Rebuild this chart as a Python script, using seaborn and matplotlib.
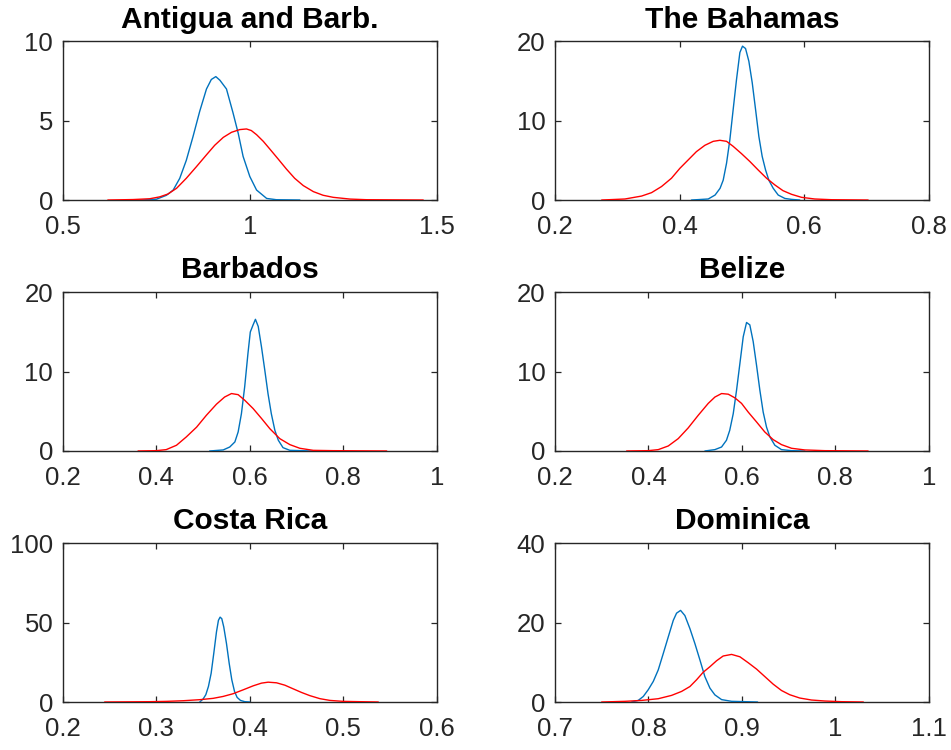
import matplotlib
matplotlib.use("Agg")
import matplotlib.pyplot as plt
import seaborn as sns
import pandas as pd
from matplotlib.ticker import FuncFormatter

# ---------------- data ----------------
countries = ["Antigua and Barb.", "The Bahamas", "Barbados", "Belize", "Costa Rica", "Dominica"]

antigua_blue_x = [0.705, 0.75, 0.777, 0.795, 0.8125, 0.83, 0.848, 0.866, 0.884, 0.897, 0.909, 0.92,
                  0.9375, 0.955, 0.969, 0.982, 1.0, 1.018, 1.045, 1.071, 1.134]
antigua_blue_y = [0.0, 0.05, 0.3, 0.63, 1.37, 2.5, 4.0, 5.6, 7.0, 7.6, 7.78, 7.55,
                  7.0, 5.5, 4.2, 2.75, 1.48, 0.63, 0.1, 0.02, 0.0]
antigua_red_x = [0.62, 0.6875, 0.732, 0.759, 0.781, 0.804, 0.83, 0.857, 0.884, 0.906, 0.929, 0.951,
                 0.973, 0.991, 1.004, 1.018, 1.036, 1.054, 1.076, 1.098, 1.12, 1.143, 1.17, 1.196,
                 1.223, 1.268, 1.3125, 1.464]
antigua_red_y = [0.0, 0.03, 0.08, 0.2, 0.38, 0.74, 1.37, 2.1, 2.85, 3.45, 3.95, 4.27,
                 4.44, 4.48, 4.38, 4.12, 3.7, 3.2, 2.58, 1.95, 1.37, 0.91, 0.53, 0.3,
                 0.17, 0.06, 0.02, 0.0]

bahamas_blue_x = [0.419, 0.446, 0.457, 0.465, 0.47, 0.4754, 0.4807, 0.486, 0.4914, 0.4968, 0.501,
                  0.5059, 0.5112, 0.5166, 0.522, 0.5273, 0.5326, 0.538, 0.5433, 0.5503, 0.5583,
                  0.569, 0.5797, 0.593]
bahamas_blue_y = [0.0, 0.13, 0.63, 1.48, 2.5, 4.65, 7.6, 11.4, 15.2, 18.6, 19.4,
                  19.1, 17.5, 14.8, 11.4, 8.0, 5.5, 3.8, 2.5, 1.48, 0.63,
                  0.2, 0.08, 0.0]
bahamas_red_x = [0.2749, 0.3123, 0.339, 0.355, 0.371, 0.387, 0.4005, 0.414, 0.427, 0.4406, 0.454,
                 0.4647, 0.4754, 0.486, 0.4995, 0.5128, 0.526, 0.5396, 0.553, 0.566, 0.5797,
                 0.5957, 0.617, 0.6439, 0.7027]
bahamas_red_y = [0.0, 0.13, 0.5, 0.93, 1.7, 2.75, 4.0, 5.07, 6.1, 6.9, 7.4,
                 7.53, 7.4, 6.77, 5.84, 4.86, 3.8, 2.75, 1.9, 1.18, 0.72,
                 0.34, 0.13, 0.04, 0.0]

barbados_blue_x = [0.514, 0.543, 0.557, 0.568, 0.575, 0.582, 0.589, 0.596, 0.601, 0.607, 0.612,
                   0.618, 0.625, 0.632, 0.639, 0.646, 0.6536, 0.661, 0.671, 0.6857, 0.7357]
barbados_blue_y = [0.0, 0.13, 0.5, 1.14, 2.4, 4.7, 8.1, 12.3, 15.0, 15.9, 16.6,
                   15.7, 13.1, 10.2, 7.2, 4.7, 2.6, 1.35, 0.42, 0.08, 0.0]
barbados_red_x = [0.3607, 0.4, 0.421, 0.443, 0.464, 0.486, 0.507, 0.5286, 0.546, 0.5607, 0.575,
                  0.589, 0.607, 0.625, 0.643, 0.664, 0.6857, 0.707, 0.7357, 0.7786, 0.893]
barbados_red_y = [0.0, 0.04, 0.17, 0.72, 1.77, 3.0, 4.5, 5.9, 6.8, 7.24, 7.1,
                  6.4, 5.35, 4.1, 2.8, 1.56, 0.8, 0.34, 0.08, 0.04, 0.0]

belize_blue_x = [0.5209, 0.5422, 0.5565, 0.567, 0.574, 0.5815, 0.5886, 0.5957, 0.6029, 0.61, 0.617,
                 0.6242, 0.6314, 0.6385, 0.6456, 0.6528, 0.66, 0.6706, 0.6848, 0.7063, 0.7348]
belize_blue_y = [0.0, 0.17, 0.5, 1.35, 2.6, 4.7, 7.66, 11.0, 14.4, 16.2, 15.9,
                 13.8, 10.8, 7.66, 4.9, 3.0, 1.77, 0.72, 0.17, 0.04, 0.0]
belize_red_x = [0.3533, 0.3996, 0.421, 0.4424, 0.4638, 0.485, 0.5066, 0.528, 0.5423, 0.5565, 0.5708,
                0.585, 0.5993, 0.6136, 0.6314, 0.649, 0.667, 0.6848, 0.7063, 0.7348, 0.7775, 0.8702]
belize_red_y = [0.0, 0.04, 0.17, 0.63, 1.56, 2.9, 4.5, 6.0, 6.8, 7.24, 7.16,
                6.7, 6.0, 4.9, 3.66, 2.4, 1.43, 0.8, 0.34, 0.13, 0.04, 0.0]

costarica_blue_x = [0.3464, 0.35, 0.3529, 0.3557, 0.3586, 0.3614, 0.3643, 0.3664, 0.3682, 0.37,
                    0.3721, 0.375, 0.3779, 0.3807, 0.3836, 0.3864, 0.39, 0.3946, 0.4]
costarica_blue_y = [0.0, 1.9, 4.6, 9.8, 18.1, 30.6, 44.2, 51.5, 53.5, 52.5,
                    47.3, 36.9, 24.4, 14.0, 6.7, 2.9, 1.0, 0.2, 0.0]
costarica_red_x = [0.2446, 0.293, 0.3107, 0.3286, 0.3464, 0.3607, 0.3714, 0.382, 0.393, 0.4036,
                   0.4125, 0.4196, 0.4286, 0.4375, 0.4464, 0.4554, 0.4643, 0.475, 0.4857, 0.5,
                   0.5179, 0.5375]
costarica_red_y = [0.0, 0.2, 0.4, 0.8, 1.46, 2.3, 3.5, 5.2, 7.7, 10.2,
                   11.9, 12.5, 12.1, 10.6, 8.3, 6.0, 4.0, 2.1, 1.0, 0.4,
                   0.2, 0.0]

dominica_blue_x = [0.782, 0.7891, 0.7945, 0.7998, 0.8052, 0.8105, 0.8159, 0.8212, 0.8266, 0.8301,
                   0.8344, 0.839, 0.8444, 0.8497, 0.8551, 0.8604, 0.8658, 0.8711, 0.8783, 0.889, 0.9168]
dominica_blue_y = [0.0, 0.4, 1.4, 3.1, 5.2, 8.1, 12.25, 16.4, 20.6, 22.4,
                   23.1, 21.8, 18.5, 14.75, 10.6, 6.4, 3.5, 1.8, 0.6, 0.17, 0.0]
dominica_red_x = [0.7499, 0.7749, 0.7927, 0.8105, 0.8248, 0.8355, 0.8444, 0.8515, 0.8586, 0.8658,
                  0.8729, 0.88, 0.889, 0.8979, 0.9068, 0.9157, 0.9246, 0.9335, 0.9424, 0.9513,
                  0.962, 0.9745, 0.9888, 1.0066, 1.03]
dominica_red_y = [0.0, 0.17, 0.4, 0.83, 1.67, 2.67, 3.9, 5.6, 7.5, 8.9,
                  10.4, 11.6, 12.0, 11.4, 9.9, 8.3, 6.4, 4.5, 2.9, 1.83,
                  1.0, 0.5, 0.25, 0.08, 0.0]

x_limits = [(0.5, 1.5), (0.2, 0.8), (0.2, 1.0), (0.2, 1.0), (0.2, 0.6), (0.7, 1.1)]
x_ticks = [[0.5, 1.0, 1.5], [0.2, 0.4, 0.6, 0.8], [0.2, 0.4, 0.6, 0.8, 1.0], [0.2, 0.4, 0.6, 0.8, 1.0],
           [0.2, 0.3, 0.4, 0.5, 0.6], [0.7, 0.8, 0.9, 1.0, 1.1]]
y_limits = [(0, 10), (0, 20), (0, 20), (0, 20), (0, 100), (0, 40)]
y_ticks = [[0, 5, 10], [0, 10, 20], [0, 10, 20], [0, 10, 20], [0, 50, 100], [0, 20, 40]]

blue_series = [(antigua_blue_x, antigua_blue_y), (bahamas_blue_x, bahamas_blue_y),
               (barbados_blue_x, barbados_blue_y), (belize_blue_x, belize_blue_y),
               (costarica_blue_x, costarica_blue_y), (dominica_blue_x, dominica_blue_y)]
red_series = [(antigua_red_x, antigua_red_y), (bahamas_red_x, bahamas_red_y),
              (barbados_red_x, barbados_red_y), (belize_red_x, belize_red_y),
              (costarica_red_x, costarica_red_y), (dominica_red_x, dominica_red_y)]

# ---------------- style ----------------
sns.set_theme(style="white")
plt.rcParams["font.family"] = ["Liberation Sans", "DejaVu Sans"]

BLUE = "#0072BD"
RED = "#FF0000"
AX_COLOR = "#262626"

fig = plt.figure(figsize=(9.51, 7.5), dpi=100)

lefts = [0.0662, 0.5836]
bottoms = [0.7333, 0.3987, 0.064]
width = 0.393
height = 0.2115

fmt = FuncFormatter(lambda v, p: f"{v:g}")

for i, name in enumerate(countries):
    row, col = divmod(i, 2)
    ax = fig.add_axes([lefts[col], bottoms[row], width, height])
    bx, by = blue_series[i]
    rx, ry = red_series[i]
    df_b = pd.DataFrame({"x": bx, "y": by})
    df_r = pd.DataFrame({"x": rx, "y": ry})
    sns.lineplot(data=df_b, x="x", y="y", ax=ax, color=BLUE, linewidth=1.0,
                 estimator=None, sort=False, zorder=3)
    sns.lineplot(data=df_r, x="x", y="y", ax=ax, color=RED, linewidth=1.0,
                 estimator=None, sort=False, zorder=3)
    ax.set_xlim(*x_limits[i])
    ax.set_ylim(*y_limits[i])
    ax.set_xticks(x_ticks[i])
    ax.set_yticks(y_ticks[i])
    ax.xaxis.set_major_formatter(fmt)
    ax.yaxis.set_major_formatter(fmt)
    ax.set_xlabel("")
    ax.set_ylabel("")
    for s in ax.spines.values():
        s.set_visible(True)
        s.set_color(AX_COLOR)
        s.set_linewidth(1.0)
    ax.tick_params(axis="both", direction="in", length=4, width=0.9, color=AX_COLOR,
                   labelcolor=AX_COLOR, labelsize=18.5, top=True, right=True,
                   bottom=True, left=True)
    ax.tick_params(axis="x", pad=11)
    ax.tick_params(axis="y", pad=7)
    ax.set_title(name, fontsize=21.5, fontweight="bold", color="black", pad=10)
    ax.grid(False)

fig.savefig("out.png", dpi=100)
